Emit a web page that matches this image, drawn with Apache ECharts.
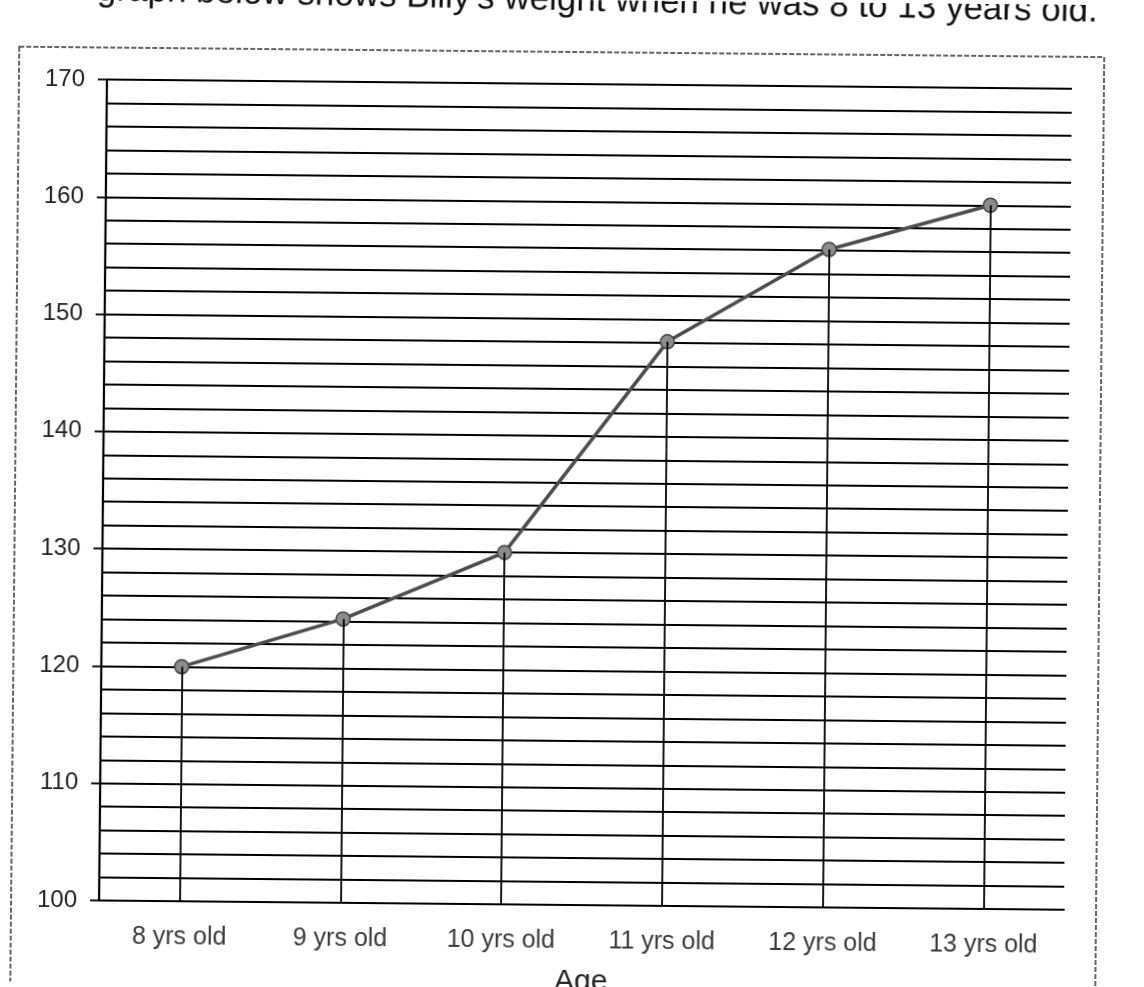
<!DOCTYPE html>
<html>
<head>
<meta charset="utf-8">
<title>Billy's weight</title>
<script src="https://cdn.jsdelivr.net/npm/echarts@6/dist/echarts.min.js"></script>
<style>
    html, body { margin: 0; padding: 0; background: #fff; overflow: hidden; }
    /* the scan is turned a little clockwise */
    #chart { width: 1144px; height: 987px; transform: rotate(0.55deg); transform-origin: 50% 50%; }
</style>
</head>
<body>
<div id="chart"></div>
<script>
// 数据
var ages = ['8 yrs old', '9 yrs old', '10 yrs old', '11 yrs old', '12 yrs old', '13 yrs old'];
var weights = [120, 124.2, 130, 148.1, 156.1, 160];
var yMin = 100, yMax = 170, yStep = 10;
var titleText = "graph below shows Billy's weight when he was 8 to 13 years old.";

// drop lines from every point down to the axis
var dropLines = [];
for (var i = 0; i < ages.length; i++) {
    dropLines.push([{coord: [ages[i], yMin]}, {coord: [ages[i], weights[i]]}]);
}

var mychart = echarts.init(document.getElementById('chart'));
var option = {
    backgroundColor: '#fff',
    animation: false,
    graphic: [
        {
            // sentence above the chart, cut by the top of the scan
            type: 'text',
            x: 1093,
            y: 7,
            rotation: -0.012,
            style: {
                text: titleText,
                font: '35px "Liberation Sans", Arial, sans-serif',
                fill: '#111',
                align: 'right',
                verticalAlign: 'middle'
            }
        },
        {
            type: 'rect',
            shape: {x: 15, y: 52, width: 1085, height: 1000},
            style: {fill: 'none', stroke: '#333', lineWidth: 1.5, lineDash: [5, 2]}
        }
    ],
    grid: {
        left: 103,
        top: 84,
        width: 965,
        height: 821,
        outerBoundsMode: 'none'
    },
    xAxis: {
        type: 'category',
        data: ages,
        boundaryGap: true,
        name: 'Age',
        nameLocation: 'middle',
        nameGap: 62,
        nameTextStyle: {fontFamily: 'Liberation Sans', fontSize: 30, color: '#222'},
        axisLine: {show: true, lineStyle: {color: '#000', width: 1.8}},
        axisTick: {show: false},
        axisLabel: {
            margin: 24,
            fontFamily: 'Liberation Sans',
            fontSize: 25,
            color: '#3a3a3a'
        },
        splitLine: {show: false}
    },
    yAxis: {
        type: 'value',
        min: yMin,
        max: yMax,
        interval: yStep,
        axisLine: {show: true, lineStyle: {color: '#000', width: 2.2}},
        axisTick: {show: true, length: 9, lineStyle: {color: '#000', width: 1.8}},
        axisLabel: {
            margin: 22,
            fontFamily: 'Liberation Sans',
            fontSize: 24,
            color: '#222'
        },
        splitLine: {show: true, lineStyle: {color: '#000', width: 1.8}},
        minorTick: {show: false, splitNumber: 5},
        minorSplitLine: {show: true, lineStyle: {color: '#000', width: 1.8}}
    },
    series: [
        {
            // only carries the drop lines, under the data line
            name: 'drop',
            type: 'line',
            data: weights,
            z: 1,
            symbol: 'none',
            lineStyle: {opacity: 0},
            silent: true,
            markLine: {
                silent: true,
                symbol: ['none', 'none'],
                label: {show: false},
                lineStyle: {color: '#000', width: 1.8, type: 'solid'},
                data: dropLines
            }
        },
        {
            name: 'Weight',
            type: 'line',
            data: weights,
            z: 3,
            symbol: 'circle',
            symbolSize: 14,
            lineStyle: {color: '#4d4d4d', width: 3.5},
            itemStyle: {color: '#8c8c8c', borderColor: '#444', borderWidth: 1.5}
        }
    ]
};
mychart.setOption(option);
</script>
</body>
</html>
